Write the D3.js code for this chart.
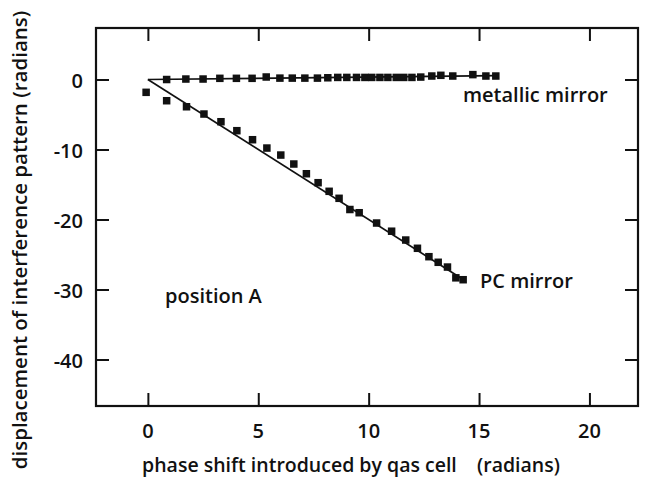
<!DOCTYPE html>
<html>
<head>
<meta charset="utf-8">
<script src="https://cdn.jsdelivr.net/npm/d3@7"></script>
<style>
  body { margin: 0; background: #fff; }
  text { font-family: "Open Sans", sans-serif; fill: #111; font-weight: 600; }
</style>
</head>
<body>
<div id="container"></div>
<script>
// metallic mirror points
let metalX = [0.85, 1.72, 2.50, 3.26, 4.01, 4.72, 5.36, 5.98, 6.54, 7.11, 7.68, 8.15, 8.60,
  9.01, 9.45, 9.83, 10.14, 10.51, 10.87, 11.25, 11.59, 11.96, 12.36, 12.86, 13.27, 13.81,
  14.72, 15.31, 15.76];
let metalY = [0.0, 0.07, 0.07, 0.17, 0.17, 0.17, 0.36, 0.2, 0.2, 0.2, 0.2, 0.25, 0.3,
  0.3, 0.3, 0.3, 0.3, 0.3, 0.3, 0.3, 0.3, 0.3, 0.35, 0.5, 0.6, 0.5,
  0.7, 0.5, 0.5];

// PC mirror points
let pcX = [-0.08, 0.85, 1.75, 2.54, 3.31, 4.03, 4.74, 5.39, 6.02, 6.61, 7.18, 7.71, 8.21,
  8.66, 9.15, 9.57, 10.36, 11.04, 11.68, 12.21, 12.73, 13.15, 13.57, 13.95, 14.28];
let pcY = [-1.83, -3.03, -3.89, -4.93, -6.03, -7.31, -8.6, -9.79, -10.79, -12.07, -13.46,
  -14.74, -15.97, -16.97, -18.57, -19.03, -20.5, -21.67, -22.93, -24.11, -25.31, -26.11,
  -26.79, -28.33, -28.6];

// fitted lines (start, end)
let metalFitX = [0, 15.76];
let metalFitY = [0, 0.55];
let pcFitX = [0, 14.3];
let pcFitY = [0, -28.6];

let xTicks = [0, 5, 10, 15, 20];
let yTicks = [0, -10, -20, -30, -40];

let w = 650;
let h = 480;

let viz = d3.select("#container")
  .append("svg")
    .attr("width", w)
    .attr("height", h)
    .style("background-color", "#ffffff");

let pLeft = 96, pRight = 638, pTop = 28, pBottom = 406;

let x = d3.scaleLinear().domain([-2.35, 22.2]).range([pLeft, pRight]);
let y = d3.scaleLinear().domain([7.36, -46.64]).range([pTop, pBottom]);

// frame
viz.append("rect")
  .attr("x", pLeft)
  .attr("y", pTop)
  .attr("width", pRight - pLeft)
  .attr("height", pBottom - pTop)
  .attr("fill", "none")
  .attr("stroke", "#111")
  .attr("stroke-width", 2.2);

// axes, ticks pointing inward on all sides
let tickLen = 13;
viz.append("g")
  .attr("transform", "translate(0," + pBottom + ")")
  .call(d3.axisTop(x).tickValues(xTicks).tickSize(tickLen).tickFormat(""))
  .call(g => g.select(".domain").remove());
viz.append("g")
  .attr("transform", "translate(0," + pTop + ")")
  .call(d3.axisBottom(x).tickValues(xTicks).tickSize(tickLen).tickFormat(""))
  .call(g => g.select(".domain").remove());
viz.append("g")
  .attr("transform", "translate(" + pLeft + ",0)")
  .call(d3.axisRight(y).tickValues(yTicks).tickSize(tickLen).tickFormat(""))
  .call(g => g.select(".domain").remove());
viz.append("g")
  .attr("transform", "translate(" + pRight + ",0)")
  .call(d3.axisLeft(y).tickValues(yTicks).tickSize(tickLen).tickFormat(""))
  .call(g => g.select(".domain").remove());
viz.selectAll(".tick line").attr("stroke", "#111").attr("stroke-width", 2);

// tick labels
viz.selectAll(".xlab")
  .data(xTicks)
  .enter()
  .append("text")
    .attr("x", d => x(d))
    .attr("y", 438)
    .attr("text-anchor", "middle")
    .attr("style", "font-size:20px;")
    .text(d => d);

viz.selectAll(".ylab")
  .data(yTicks)
  .enter()
  .append("text")
    .attr("x", 83)
    .attr("y", d => y(d) + 8)
    .attr("text-anchor", "end")
    .attr("style", "font-size:20px;")
    .text(d => d);

// fit lines
let line = d3.line().x(d => x(d[0])).y(d => y(d[1]));

viz.append("path")
  .attr("d", line(d3.zip(metalFitX, metalFitY)))
  .attr("fill", "none")
  .attr("stroke", "#111")
  .attr("stroke-width", 1.7);

viz.append("path")
  .attr("d", line(d3.zip(pcFitX, pcFitY)))
  .attr("fill", "none")
  .attr("stroke", "#111")
  .attr("stroke-width", 1.7);

// markers
let s = 7.5;
viz.selectAll(".metal")
  .data(d3.zip(metalX, metalY))
  .enter()
  .append("rect")
    .attr("x", d => x(d[0]) - s / 2)
    .attr("y", d => y(d[1]) - s / 2)
    .attr("width", s)
    .attr("height", s)
    .attr("fill", "#111");

viz.selectAll(".pc")
  .data(d3.zip(pcX, pcY))
  .enter()
  .append("rect")
    .attr("x", d => x(d[0]) - s / 2)
    .attr("y", d => y(d[1]) - s / 2)
    .attr("width", s)
    .attr("height", s)
    .attr("fill", "#111");

// labels
viz.append("text")
  .attr("x", 463)
  .attr("y", 102)
  .attr("style", "font-size:20px;")
  .text("metallic mirror");

viz.append("text")
  .attr("x", 480)
  .attr("y", 288)
  .attr("style", "font-size:20px;")
  .text("PC mirror");

viz.append("text")
  .attr("x", 165)
  .attr("y", 303)
  .attr("style", "font-size:20px;")
  .text("position A");

viz.append("text")
  .attr("x", (145 + 557) / 2)
  .attr("y", 472)
  .attr("text-anchor", "middle")
  .attr("style", "font-size:19.5px; white-space:pre;")
  .text("phase shift introduced by qas cell    (radians)");

viz.append("text")
  .attr("transform", "translate(27,240) rotate(-90)")
  .attr("text-anchor", "middle")
  .attr("style", "font-size:20.5px;")
  .text("displacement of interference pattern (radians)");
</script>
</body>
</html>
